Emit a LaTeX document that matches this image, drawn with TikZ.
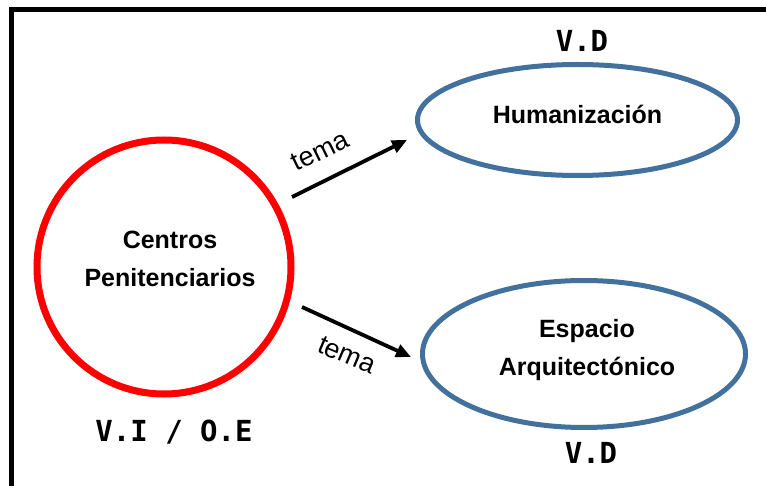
\documentclass[tikz,border=0pt]{standalone}
\usepackage{fontspec}
\setmainfont{Liberation Sans}
\newfontfamily\monofont{DejaVu Sans Mono}
\usetikzlibrary{shapes.geometric,arrows.meta}
\definecolor{ovalblue}{RGB}{65,113,156}
\definecolor{circred}{RGB}{255,0,0}
\tikzset{
  redcirc/.style={circle,draw=circred,line width=7pt,minimum size=254pt,inner sep=0pt},
  blueoval/.style={ellipse,draw=ovalblue,line width=5pt,inner sep=0pt},
  maintext/.style={font=\fontsize{25}{30}\selectfont\bfseries,anchor=base,inner sep=0pt},
  vartext/.style={font=\fontsize{29}{34}\selectfont\monofont\bfseries,anchor=base,inner sep=0pt},
  relarrow/.style={line width=3.8pt,-{Triangle[length=15pt,width=13pt]}},
  relabel/.style={font=\fontsize{27}{32}\selectfont,inner sep=0pt}
}
\begin{document}
\begin{tikzpicture}[x=1pt,y=-1pt]
\useasboundingbox (0,0) rectangle (766,486);
\fill[white] (0,0) rectangle (766,486);
% frame
\draw[line width=4.5pt] (11.5,490) -- (11.5,9.3) -- (770,9.3);
% shapes
\node[redcirc] (cp) at (164,267) {};
\node[blueoval,minimum width=320pt,minimum height=111pt] (hum) at (577.5,120) {};
\node[blueoval,minimum width=323pt,minimum height=147pt] (esp) at (584,354) {};
% texts
\node[maintext] (cp1) at (170,249) {Centros};
\node[maintext] (cp2) at (170,287) {Penitenciarios};
\node[maintext] (hum1) at (577.5,124) {Humanización};
\node[maintext] (esp1) at (587,338) {Espacio};
\node[maintext] (esp2) at (587,375) {Arquitectónico};
\node[vartext] (vd1) at (582,52) {V.D};
\node[vartext] (vio) at (174,441) {V.I / O.E};
\node[vartext] (vd2) at (591,463) {V.D};
% connectors
\coordinate (a1s) at (292,197);
\coordinate (a1e) at (407,140);
\coordinate (a2s) at (302,307);
\coordinate (a2e) at (411,357);
\draw[relarrow] (a1s) -- (a1e);
\draw[relarrow] (a2s) -- (a2e);
\node[relabel,rotate=26] (t1) at (320,151) {tema};
\node[relabel,rotate=-23] (t2) at (347,355) {tema};
\end{tikzpicture}
\end{document}
